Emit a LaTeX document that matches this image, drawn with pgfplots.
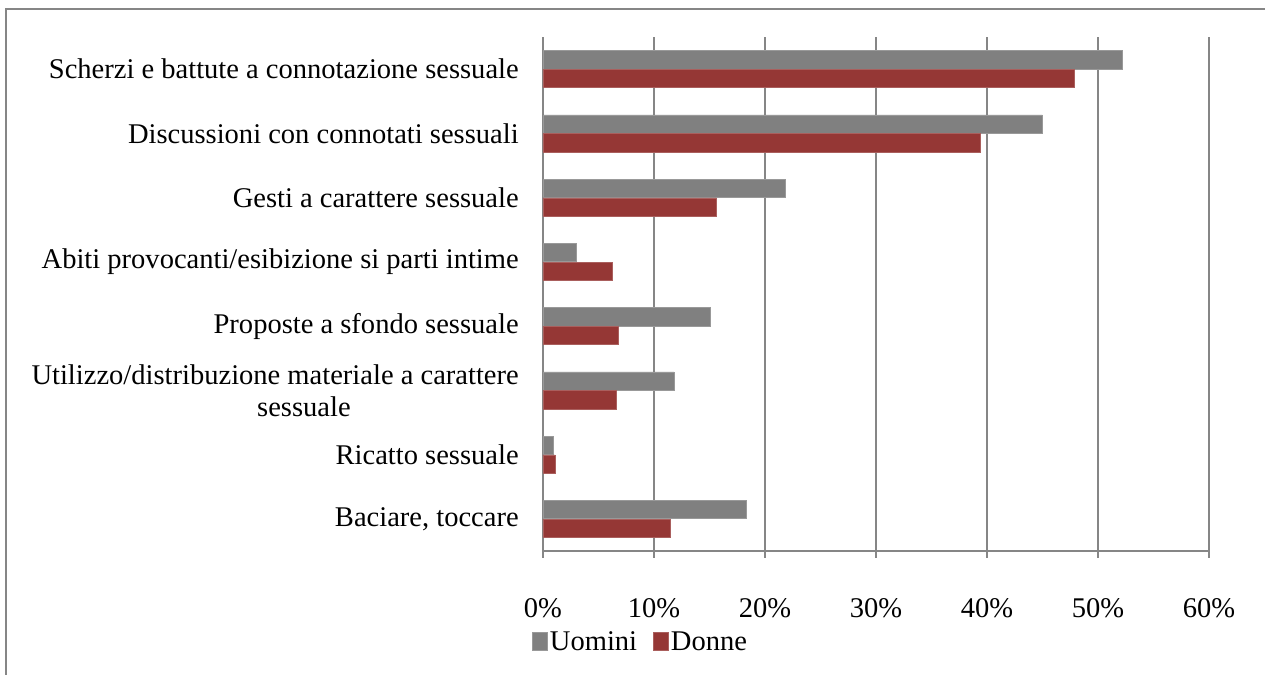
\documentclass[border=0pt]{standalone}
\usepackage{pgfplots}
\pgfplotsset{compat=1.18}
\usepackage{fontspec}
\setmainfont{Liberation Serif}
\definecolor{uomini}{RGB}{128,128,128}
\definecolor{donne}{RGB}{149,55,53}
\definecolor{gridc}{RGB}{134,134,134}
\begin{document}
\begin{tikzpicture}[x=0.75pt,y=0.75pt]
\useasboundingbox (0,0) rectangle (1265,675);
\draw[gridc, line width=1pt] (6,0) -- (6,666) -- (1265,666);
\begin{axis}[
  at={(407.25pt,93pt)}, anchor=south west,
  scale only axis, width=499.5pt, height=385.5pt,
  xbar, bar width=0.285,
  xmin=0, xmax=60, ymin=-0.5, ymax=7.5,
  axis x line=bottom, axis y line=left,
  axis line style={gridc, line width=1pt, -},
  xtick={0,10,...,60},
  xticklabels={0\%,10\%,20\%,30\%,40\%,50\%,60\%},
  xmajorgrids, grid style={gridc, line width=1pt},
  tick align=outside,
  major tick length=5pt,
  tick style={gridc, line width=1pt},
  ytick={0,...,7},
  yticklabels={{Baciare, toccare},{Ricatto sessuale},{Utilizzo/distribuzione materiale a carattere\\sessuale\hspace*{126pt}},{Proposte a sfondo sessuale},{Abiti provocanti/esibizione si parti intime},{Gesti a carattere sessuale},{Discussioni con connotati sessuali},{Scherzi e battute a connotazione sessuale}},
  ytick style={draw=none},
  minor ytick={-0.5,0.5,...,7.5},
  minor tick length=5pt,
  minor tick style={gridc, line width=1pt},
  tick label style={font=\fontsize{21.4}{24}\selectfont},
  yticklabel style={align=right, inner sep=0pt, xshift=-13pt},
  xticklabel style={yshift=-27pt},
  legend style={at={(0.147,-0.178)}, anchor=center, draw=none, fill=none,
    legend columns=2, font=\fontsize{21.4}{24}\selectfont,
    /tikz/every even column/.append style={column sep=10pt}},
  legend image code/.code={\fill[#1] (0pt,-6pt) rectangle (11pt,8pt);},
]
\addplot[fill=uomini, draw=uomini!80!white, bar shift=0.145] coordinates {
(18.3,0) (0.9,1) (11.8,2) (15.1,3) (3.0,4) (21.8,5) (45.0,6) (52.2,7)};
\addplot[fill=donne, draw=donne!80!white, bar shift=-0.145] coordinates {
(11.5,0) (1.1,1) (6.6,2) (6.8,3) (6.2,4) (15.6,5) (39.4,6) (47.9,7)};
\legend{Uomini,Donne}
\end{axis}
\end{tikzpicture}
\end{document}
